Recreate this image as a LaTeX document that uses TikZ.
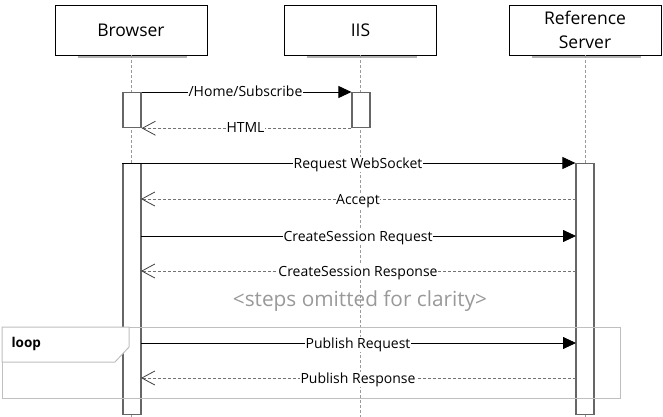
\documentclass[tikz,border=0pt]{standalone}
\usepackage{fontspec}
\setmainfont{Open Sans}
\usetikzlibrary{arrows.meta,calc}
\begin{document}
\begin{tikzpicture}[x=1pt,y=-1pt,
  header/.style={draw=black,line width=0.8pt,fill=white,minimum width=152pt,minimum height=50pt,inner sep=0pt,align=center,font=\fontsize{17.5}{24}\selectfont},
  lifeline/.style={draw=black!40,line width=0.8pt,dash pattern=on 3pt off 2pt},
  actbar/.style={draw=black!60,line width=1.2pt,fill=white,minimum width=18pt,inner sep=0pt,anchor=north},
  callmsg/.style={draw=black,line width=0.8pt,-{Triangle[length=13pt,width=12pt]}},
  retmsg/.style={draw=black!55,line width=0.8pt,dash pattern=on 3pt off 2pt,-{Straight Barb[length=13pt,width=14pt,line width=0.8pt,color=black!75]}},
  msglabel/.style={fill=white,inner sep=0.6pt,anchor=base,font=\fontsize{14}{16}\selectfont},
  shadow/.style={draw=black!30,line width=1.5pt}
  ]
\useasboundingbox (0,0) rectangle (663,417);
% headers
\node[header] (browser) at (131,30) {Browser};
\node[header] (iis) at (360.5,30) {IIS};
\node[header] (ref) at (585,30) {Reference\\Server};
\foreach \h in {browser,iis,ref}{
  \draw[shadow] ($(\h.south west)+(23,1.5)$) -- ($(\h.south east)+(-20,1.5)$);
}
% lifelines
\coordinate (bEnd) at (131,417);
\coordinate (iEnd) at (360.5,417);
\coordinate (rEnd) at (585,417);
\draw[lifeline] (browser.south) -- (bEnd);
\draw[lifeline] (iis.south) -- (iEnd);
\draw[lifeline] (ref.south) -- (rEnd);
% activation bars
\node[actbar,minimum height=35pt] (b1) at (132,92) {};
\node[actbar,minimum height=35pt] (i1) at (361,92) {};
\node[actbar,minimum height=251pt] (b2) at (132,163) {};
\node[actbar,minimum height=251pt] (r1) at (585,163) {};
% messages
\draw[callmsg] (b1.north east) -- (i1.north west);
\node[msglabel] (l1) at (245.5,97) {/Home/Subscribe};
\draw[retmsg] (i1.south west) -- (b1.south east);
\node[msglabel] (l2) at (245.5,132) {HTML};

\draw[callmsg] (b2.north west) -- (r1.north west);
\node[msglabel] (l3) at (358,168) {Request WebSocket};

\coordinate (rA) at (576,199); \coordinate (bA) at (141,199);
\draw[retmsg] (rA) -- (bA);
\node[msglabel] (l4) at (358,204) {Accept};

\coordinate (bC) at (141,236); \coordinate (rC) at (576,236);
\draw[callmsg] (bC) -- (rC);
\node[msglabel] (l5) at (358,241) {CreateSession Request};

\coordinate (rD) at (576,271); \coordinate (bD) at (141,271);
\draw[retmsg] (rD) -- (bD);
\node[msglabel] (l6) at (358,276) {CreateSession Response};

\node[text=black!40,font=\fontsize{20.8}{24}\selectfont] (omit) at (360,301) {<steps omitted for clarity>};

\coordinate (bE) at (141,343); \coordinate (rE) at (576,343);
\draw[callmsg] (bE) -- (rE);
\node[msglabel] (l7) at (358,348) {Publish Request};

\coordinate (rF) at (576,378); \coordinate (bF) at (141,378);
\draw[retmsg] (rF) -- (bF);
\node[msglabel] (l8) at (358,383) {Publish Response};

% loop frame
\draw[black!25,line width=1pt] (2,327) rectangle (620,398);
\draw[black!25,line width=1pt,fill=white] (2,327) -- (129,327) -- (129,347) -- (115,362) -- (2,362) -- cycle;
\node[anchor=west,font=\bfseries\fontsize{13.5}{16}\selectfont] (looplbl) at (8,344) {loop};
\end{tikzpicture}
\end{document}
